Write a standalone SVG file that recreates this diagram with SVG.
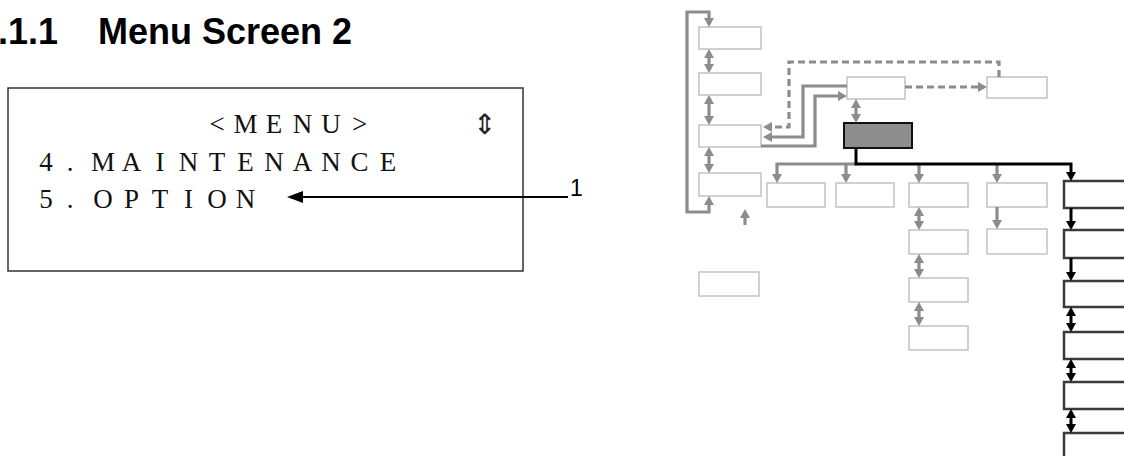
<svg xmlns="http://www.w3.org/2000/svg" width="1124" height="456" viewBox="0 0 1124 456">
<style>
.hd{font-family:"Liberation Sans",Arial,sans-serif;font-weight:bold;font-size:36px;fill:#000}
.lcd{font-family:"Liberation Serif","Times New Roman",serif;font-size:27px;fill:#111}
.lbl{font-family:"Liberation Sans",Arial,sans-serif;font-size:23px;fill:#000}
.gbox{fill:#fff;stroke:#c6c6c6;stroke-width:1.6}
.kbox{fill:#fff;stroke:#3a3a3a;stroke-width:2.5}
.dbox{fill:#8e8e8e;stroke:#111;stroke-width:2}
.gl{fill:none;stroke:#8c8c8c;stroke-width:3.2}
.gd{fill:none;stroke:#8c8c8c;stroke-width:3.2;stroke-dasharray:7 4}
.kl{fill:none;stroke:#000;stroke-width:3}
</style>
<defs>
<marker id="ga" viewBox="0 0 9 10" refX="6" refY="5" markerWidth="9" markerHeight="10" markerUnits="userSpaceOnUse" orient="auto-start-reverse"><path d="M0,0 L9,5 L0,10 z" fill="#8c8c8c"/></marker>
<marker id="ka" viewBox="0 0 9 10" refX="6" refY="5" markerWidth="9" markerHeight="10" markerUnits="userSpaceOnUse" orient="auto-start-reverse"><path d="M0,0 L9,5 L0,10 z" fill="#000"/></marker>
</defs>
<rect width="1124" height="456" fill="#fff"/>

<g id="heading">
<text class="hd" x="-2" y="44">.1.1</text>
<text class="hd" x="98" y="44">Menu Screen 2</text>
</g>

<g id="menu-screen">
<rect x="8" y="88" width="515" height="183" fill="#fff" stroke="#333" stroke-width="1.5"/>
<text class="lcd" text-anchor="middle" x="217 245.5 274 302.5 331 359.5" y="133">&lt;MENU&gt;</text>
<text x="484" y="134" text-anchor="middle" font-family="'Noto Sans CJK JP', 'DejaVu Sans', sans-serif" font-weight="300" font-size="28" fill="#222">⇕</text>
<text class="lcd" text-anchor="middle" x="46 70 88 103 131.5 160 188.5 217 245.5 274 302.5 331 359.5 388" y="171">4. MAINTENANCE</text>
<text class="lcd" text-anchor="middle" x="46 70 88 103 131.5 160 188.5 217 245.5" y="208">5. OPTION</text>
</g>

<g id="callout-1">
<path d="M300,197 H568" stroke="#000" stroke-width="2"/>
<path d="M287,197 L303,191 L303,203 z" fill="#000"/>
<text class="lbl" x="570" y="196">1</text>
</g>

<g id="nodes">
<rect id="n-b1" class="gbox" x="699" y="27" width="62" height="22"/>
<rect id="n-b2" class="gbox" x="699" y="73" width="62" height="22"/>
<rect id="n-b3" class="gbox" x="699" y="125" width="62" height="22"/>
<rect id="n-b4" class="gbox" x="699" y="173" width="62" height="23"/>
<rect id="n-h" class="gbox" x="699" y="272" width="60" height="24"/>
<rect id="n-a" class="gbox" x="847" y="77" width="58" height="22"/>
<rect id="n-b" class="gbox" x="987" y="77" width="60" height="21"/>
<rect id="n-dark" class="dbox" x="844" y="123" width="68" height="25"/>
<rect id="n-c" class="gbox" x="767" y="183" width="58" height="24"/>
<rect id="n-d" class="gbox" x="836" y="183" width="58" height="24"/>
<rect id="n-e1" class="gbox" x="909" y="183" width="59" height="24"/>
<rect id="n-e2" class="gbox" x="909" y="230" width="59" height="24"/>
<rect id="n-e3" class="gbox" x="909" y="278" width="59" height="24"/>
<rect id="n-e4" class="gbox" x="909" y="326" width="59" height="24"/>
<rect id="n-f1" class="gbox" x="987" y="183" width="60" height="24"/>
<rect id="n-f2" class="gbox" x="987" y="229" width="60" height="25"/>
<rect id="n-g1" class="kbox" x="1064" y="181" width="72" height="27"/>
<rect id="n-g2" class="kbox" x="1064" y="230" width="72" height="28"/>
<rect id="n-g3" class="kbox" x="1064" y="281" width="72" height="26"/>
<rect id="n-g4" class="kbox" x="1064" y="332" width="72" height="27"/>
<rect id="n-g5" class="kbox" x="1064" y="382" width="72" height="27"/>
<rect id="n-g6" class="kbox" x="1064" y="433" width="72" height="30"/>
</g>

<g id="connectors">
<path class="gl" d="M709,24 V12 H687 V212 H709 V199" marker-start="url(#ga)" marker-end="url(#ga)"/>
<path class="gl" d="M709,52 V70" marker-start="url(#ga)" marker-end="url(#ga)"/>
<path class="gl" d="M709,98 V122" marker-start="url(#ga)" marker-end="url(#ga)"/>
<path class="gl" d="M709,150 V170" marker-start="url(#ga)" marker-end="url(#ga)"/>
<path class="gl" d="M745,225 V212" marker-end="url(#ga)"/>
<path class="gl" d="M856,102 V120" marker-start="url(#ga)" marker-end="url(#ga)"/>
<path class="gd" d="M999,77 V62 H789 V127 H766" marker-end="url(#ga)"/>
<path class="gd" d="M905,87 H984" marker-end="url(#ga)"/>
<path class="gl" d="M847,86 H803 V137 H766" marker-end="url(#ga)"/>
<path class="gl" d="M761,146 H815 V96 H844" marker-end="url(#ga)"/>
<path class="gl" d="M777,180 V164 H856" marker-start="url(#ga)"/>
<path class="gl" d="M846,164 V180" marker-end="url(#ga)"/>
<path class="gl" d="M919,164 V180" marker-end="url(#ga)"/>
<path class="gl" d="M997,164 V180" marker-end="url(#ga)"/>
<path class="kl" d="M856,148 V164 H1071 V178" marker-end="url(#ka)"/>
<path class="gl" d="M919,210 V227" marker-start="url(#ga)" marker-end="url(#ga)"/>
<path class="gl" d="M919,257 V275" marker-start="url(#ga)" marker-end="url(#ga)"/>
<path class="gl" d="M919,305 V323" marker-start="url(#ga)" marker-end="url(#ga)"/>
<path class="gl" d="M997,207 V226" marker-end="url(#ga)"/>
<path class="kl" d="M1071,208 V227" marker-end="url(#ka)"/>
<path class="kl" d="M1071,258 V278" marker-end="url(#ka)"/>
<path class="kl" d="M1071,310 V329" marker-start="url(#ka)" marker-end="url(#ka)"/>
<path class="kl" d="M1071,362 V379" marker-start="url(#ka)" marker-end="url(#ka)"/>
<path class="kl" d="M1071,412 V430" marker-start="url(#ka)" marker-end="url(#ka)"/>
</g>
</svg>
